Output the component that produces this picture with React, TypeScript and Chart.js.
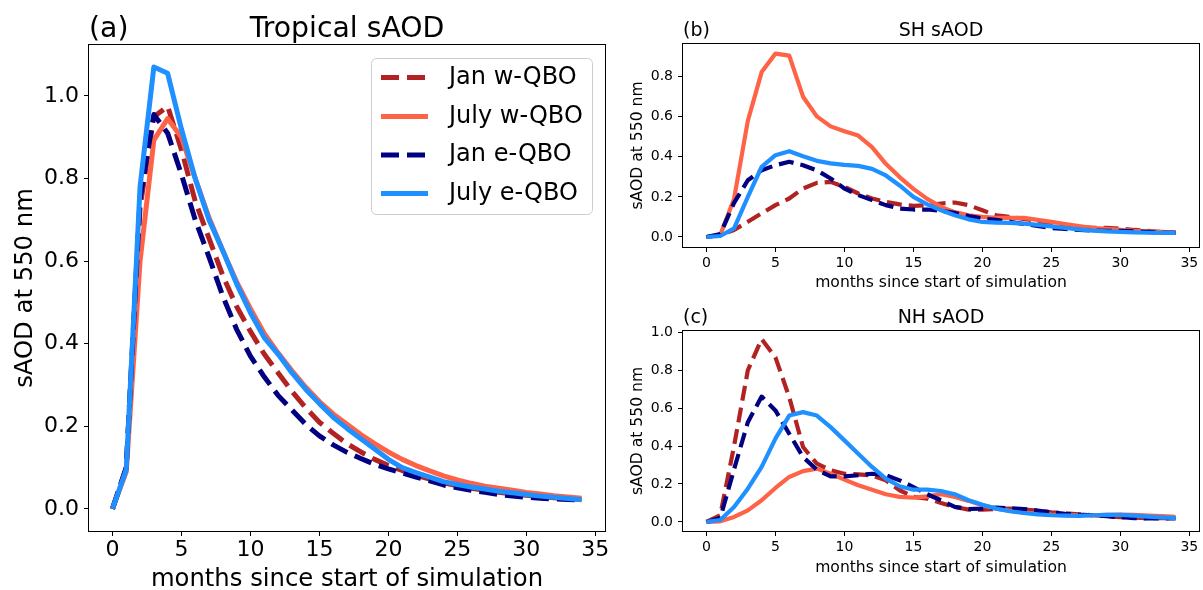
import React, { useEffect, useRef } from "react";
import { Chart, registerables } from "chart.js";

Chart.register(...registerables);

// ---------------- data ----------------
const MONTHS = [0, 1, 2, 3, 4, 5, 6, 7, 8, 9, 10, 11, 12, 13, 14, 15, 16, 17, 18, 19, 20, 21, 22, 23, 24, 25, 26, 27, 28, 29, 30, 31, 32, 33, 34];

const SERIES_LABELS = ["Jan w-QBO", "July w-QBO", "Jan e-QBO", "July e-QBO"];
const SERIES_COLORS = ["#b22222", "#ff6347", "#000080", "#1e90ff"];
const SERIES_DASHED = [true, false, true, false];

const X_TICKS = [0, 5, 10, 15, 20, 25, 30, 35];
const Y_TICKS_TROP = [0, 0.2, 0.4, 0.6, 0.8, 1.0];
const Y_TICKS_SH = [0, 0.2, 0.4, 0.6, 0.8];
const Y_TICKS_NH = [0, 0.2, 0.4, 0.6, 0.8, 1.0];

// Tropical sAOD
const TROP_JAN_W = [0, 0.10, 0.73, 0.95, 0.975, 0.87, 0.745, 0.655, 0.565, 0.49, 0.43, 0.375, 0.33, 0.285, 0.245, 0.21, 0.183, 0.158, 0.138, 0.12, 0.105, 0.093, 0.082, 0.072, 0.063, 0.056, 0.05, 0.045, 0.04, 0.036, 0.033, 0.03, 0.027, 0.025, 0.023];
const TROP_JUL_W = [0, 0.09, 0.60, 0.893, 0.945, 0.90, 0.80, 0.705, 0.625, 0.55, 0.485, 0.425, 0.378, 0.335, 0.295, 0.26, 0.23, 0.205, 0.18, 0.158, 0.138, 0.12, 0.105, 0.092, 0.08, 0.07, 0.062, 0.055, 0.05, 0.045, 0.04, 0.036, 0.032, 0.029, 0.026];
const TROP_JAN_E = [0, 0.10, 0.75, 0.955, 0.91, 0.81, 0.70, 0.61, 0.515, 0.435, 0.37, 0.32, 0.275, 0.24, 0.205, 0.177, 0.155, 0.137, 0.122, 0.108, 0.097, 0.087, 0.077, 0.068, 0.058, 0.051, 0.045, 0.04, 0.035, 0.031, 0.028, 0.026, 0.024, 0.023, 0.022];
const TROP_JUL_E = [0, 0.095, 0.78, 1.07, 1.055, 0.92, 0.80, 0.70, 0.625, 0.545, 0.475, 0.415, 0.375, 0.33, 0.29, 0.255, 0.222, 0.195, 0.17, 0.145, 0.12, 0.10, 0.088, 0.077, 0.066, 0.059, 0.053, 0.048, 0.043, 0.039, 0.035, 0.031, 0.028, 0.025, 0.022];

// SH sAOD
const SH_JAN_W = [0, 0.01, 0.035, 0.076, 0.118, 0.159, 0.192, 0.242, 0.27, 0.275, 0.25, 0.217, 0.192, 0.175, 0.163, 0.155, 0.159, 0.167, 0.172, 0.159, 0.133, 0.108, 0.1, 0.09, 0.08, 0.065, 0.055, 0.05, 0.045, 0.045, 0.042, 0.035, 0.03, 0.025, 0.022];
const SH_JUL_W = [0, 0.01, 0.19, 0.58, 0.823, 0.915, 0.905, 0.70, 0.602, 0.552, 0.528, 0.506, 0.448, 0.365, 0.299, 0.24, 0.19, 0.15, 0.124, 0.108, 0.10, 0.095, 0.095, 0.095, 0.085, 0.075, 0.065, 0.055, 0.045, 0.04, 0.035, 0.03, 0.028, 0.025, 0.022];
const SH_JAN_E = [0, 0.015, 0.17, 0.283, 0.333, 0.358, 0.375, 0.358, 0.333, 0.292, 0.242, 0.209, 0.184, 0.159, 0.142, 0.137, 0.137, 0.13, 0.12, 0.105, 0.092, 0.085, 0.075, 0.065, 0.055, 0.045, 0.04, 0.035, 0.032, 0.03, 0.03, 0.028, 0.025, 0.022, 0.02];
const SH_JUL_E = [0, 0.005, 0.043, 0.2, 0.35, 0.408, 0.428, 0.403, 0.38, 0.367, 0.36, 0.355, 0.34, 0.307, 0.257, 0.2, 0.163, 0.133, 0.108, 0.088, 0.075, 0.072, 0.07, 0.067, 0.06, 0.053, 0.045, 0.038, 0.032, 0.028, 0.025, 0.023, 0.021, 0.02, 0.02];

// NH sAOD
const NH_JAN_W = [0, 0.035, 0.4, 0.8, 0.965, 0.868, 0.658, 0.395, 0.307, 0.272, 0.254, 0.251, 0.245, 0.219, 0.167, 0.132, 0.123, 0.1, 0.079, 0.065, 0.065, 0.068, 0.07, 0.065, 0.06, 0.05, 0.045, 0.04, 0.035, 0.03, 0.025, 0.022, 0.02, 0.02, 0.02];
const NH_JUL_W = [0, 0.003, 0.026, 0.061, 0.114, 0.179, 0.237, 0.268, 0.281, 0.254, 0.223, 0.193, 0.17, 0.146, 0.132, 0.128, 0.135, 0.146, 0.132, 0.111, 0.088, 0.07, 0.058, 0.05, 0.043, 0.038, 0.036, 0.035, 0.035, 0.037, 0.038, 0.037, 0.033, 0.03, 0.027];
const NH_JAN_E = [0, 0.02, 0.277, 0.526, 0.661, 0.588, 0.465, 0.342, 0.275, 0.24, 0.24, 0.246, 0.254, 0.246, 0.219, 0.184, 0.146, 0.114, 0.079, 0.068, 0.07, 0.075, 0.072, 0.068, 0.06, 0.05, 0.043, 0.038, 0.035, 0.03, 0.025, 0.02, 0.018, 0.018, 0.018];
const NH_JUL_E = [0, 0.01, 0.079, 0.175, 0.29, 0.439, 0.561, 0.579, 0.561, 0.5, 0.43, 0.36, 0.29, 0.228, 0.188, 0.17, 0.17, 0.163, 0.146, 0.114, 0.091, 0.07, 0.056, 0.047, 0.04, 0.035, 0.033, 0.032, 0.035, 0.037, 0.037, 0.033, 0.028, 0.024, 0.02];

const X_LABEL = "months since start of simulation";
const Y_LABEL = "sAOD at 550 nm";

// ---------------- layout ----------------
const FONT = '"DejaVu Sans", "Liberation Sans", sans-serif';

type PanelSpec = {
  left: number; top: number; width: number; height: number;
  aL: number; aT: number; aR: number; aB: number;
  yMin: number; yMax: number; yTicks: number[];
  series: number[][];
  tag: string; title: string;
  tickSize: number; labelSize: number; titleSize: number;
  lw: number; dash: number[];
  xTickPad: number;
  titleBase: number; xLabelBase: number; yLabelBase: number;
  legend: boolean;
};

const PANELS: PanelSpec[] = [
  {
    left: 0, top: 0, width: 640, height: 590,
    aL: 89, aT: 45, aR: 605, aB: 531,
    yMin: -0.0535, yMax: 1.1235, yTicks: Y_TICKS_TROP,
    series: [TROP_JAN_W, TROP_JUL_W, TROP_JAN_E, TROP_JUL_E],
    tag: "(a)", title: "Tropical sAOD",
    tickSize: 22, labelSize: 24.3, titleSize: 28.3,
    lw: 5, dash: [18, 8], xTickPad: 3,
    titleBase: 37, xLabelBase: 586, yLabelBase: 32,
    legend: true,
  },
  {
    left: 612, top: 0, width: 591, height: 295,
    aL: 683, aT: 44, aR: 1199, aB: 247,
    yMin: -0.05, yMax: 0.963, yTicks: Y_TICKS_SH,
    series: [SH_JAN_W, SH_JUL_W, SH_JAN_E, SH_JUL_E],
    tag: "(b)", title: "SH sAOD",
    tickSize: 14, labelSize: 15.6, titleSize: 19,
    lw: 4.2, dash: [15, 7], xTickPad: 4,
    titleBase: 36, xLabelBase: 287, yLabelBase: 642,
    legend: false,
  },
  {
    left: 612, top: 295, width: 591, height: 295,
    aL: 683, aT: 331, aR: 1199, aB: 531,
    yMin: -0.048, yMax: 1.007, yTicks: Y_TICKS_NH,
    series: [NH_JAN_W, NH_JUL_W, NH_JAN_E, NH_JUL_E],
    tag: "(c)", title: "NH sAOD",
    tickSize: 14, labelSize: 15.6, titleSize: 19,
    lw: 4.2, dash: [15, 7], xTickPad: 4,
    titleBase: 323, xLabelBase: 572, yLabelBase: 642,
    legend: false,
  },
];

function roundRectPath(ctx: CanvasRenderingContext2D, x: number, y: number, w: number, h: number, r: number) {
  ctx.beginPath();
  ctx.moveTo(x + r, y);
  ctx.lineTo(x + w - r, y);
  ctx.arcTo(x + w, y, x + w, y + r, r);
  ctx.lineTo(x + w, y + h - r);
  ctx.arcTo(x + w, y + h, x + w - r, y + h, r);
  ctx.lineTo(x + r, y + h);
  ctx.arcTo(x, y + h, x, y + h - r, r);
  ctx.lineTo(x, y + r);
  ctx.arcTo(x, y, x + r, y, r);
  ctx.closePath();
}

function decorPlugin(p: PanelSpec) {
  return {
    id: "decor",
    afterDraw(chart: any) {
      const ctx: CanvasRenderingContext2D = chart.ctx;
      const ca = chart.chartArea;
      const ox = p.left, oy = p.top;
      ctx.save();
      // frame
      ctx.strokeStyle = "#000";
      ctx.lineWidth = 1;
      ctx.setLineDash([]);
      ctx.strokeRect(Math.round(ca.left) - 0.5, Math.round(ca.top) - 0.5, Math.round(ca.right - ca.left) + 1, Math.round(ca.bottom - ca.top) + 1);

      // titles
      ctx.fillStyle = "#000";
      ctx.font = `${p.titleSize}px ${FONT}`;
      ctx.textBaseline = "alphabetic";
      ctx.textAlign = "left";
      ctx.fillText(p.tag, ca.left, p.titleBase - oy);
      ctx.textAlign = "center";
      ctx.fillText(p.title, (ca.left + ca.right) / 2, p.titleBase - oy);

      // axis labels
      ctx.font = `${p.labelSize}px ${FONT}`;
      ctx.textAlign = "center";
      ctx.fillText(X_LABEL, (ca.left + ca.right) / 2, p.xLabelBase - oy);
      ctx.save();
      ctx.translate(p.yLabelBase - ox, (ca.top + ca.bottom) / 2);
      ctx.rotate(-Math.PI / 2);
      ctx.fillText(Y_LABEL, 0, 0);
      ctx.restore();

      // legend
      if (p.legend) {
        const bx = 371 - ox, by = 58 - oy, bw = 592 - 371, bh = 214 - 58;
        roundRectPath(ctx, bx + 0.5, by + 0.5, bw, bh, 5);
        ctx.fillStyle = "rgba(255,255,255,0.8)";
        ctx.fill();
        ctx.strokeStyle = "#cccccc";
        ctx.lineWidth = 1;
        ctx.stroke();
        const rowY = [77.5, 116.5, 155, 193.5];
        chart.data.datasets.forEach((ds: any, i: number) => {
          const y = rowY[i] - oy;
          ctx.beginPath();
          ctx.setLineDash(SERIES_DASHED[i] ? p.dash : []);
          ctx.lineWidth = p.lw;
          ctx.lineCap = "butt";
          ctx.strokeStyle = ds.borderColor;
          ctx.moveTo(381 - ox, y);
          ctx.lineTo(428 - ox, y);
          ctx.stroke();
          ctx.setLineDash([]);
          ctx.fillStyle = "#000";
          ctx.font = `${24}px ${FONT}`;
          ctx.textAlign = "left";
          ctx.textBaseline = "middle";
          ctx.fillText(ds.label, 449 - ox, y);
        });
      }
      ctx.restore();
    },
  };
}

function makeConfig(p: PanelSpec): any {
  const tickGrid = {
    display: true,
    drawOnChartArea: false,
    drawTicks: true,
    tickLength: 5,
    color: "#000",
    lineWidth: 1,
  };
  return {
    type: "line",
    data: {
      datasets: p.series.map((vals, i) => ({
        label: SERIES_LABELS[i],
        data: MONTHS.map((m, k) => ({ x: m, y: vals[k] })),
        borderColor: SERIES_COLORS[i],
        backgroundColor: SERIES_COLORS[i],
        borderWidth: p.lw,
        borderDash: SERIES_DASHED[i] ? p.dash : [],
        borderCapStyle: "butt",
        borderJoinStyle: "round",
        pointRadius: 0,
        pointHoverRadius: 0,
        tension: 0,
        fill: false,
        order: 4 - i,
      })),
    },
    options: {
      responsive: false,
      animation: false,
      devicePixelRatio: 1,
      events: [],
      layout: {
        padding: {
          left: 0,
          top: p.aT - p.top,
          right: p.left + p.width - p.aR,
          bottom: 0,
        },
      },
      plugins: {
        legend: { display: false },
        title: { display: false },
        tooltip: { enabled: false },
      },
      scales: {
        x: {
          type: "linear",
          min: -1.7,
          max: 35.7,
          afterBuildTicks: (s: any) => {
            s.ticks = X_TICKS.map((v) => ({ value: v }));
          },
          afterFit: (s: any) => {
            s.height = p.top + p.height - p.aB;
          },
          grid: tickGrid,
          border: { display: false },
          ticks: {
            color: "#000",
            font: { family: FONT, size: p.tickSize, lineHeight: 1 },
            padding: p.xTickPad,
            maxRotation: 0,
            autoSkip: false,
            callback: (v: any) => String(v),
          },
        },
        y: {
          type: "linear",
          min: p.yMin,
          max: p.yMax,
          afterBuildTicks: (s: any) => {
            s.ticks = p.yTicks.map((v) => ({ value: v }));
          },
          afterFit: (s: any) => {
            s.width = p.aL - p.left;
          },
          grid: tickGrid,
          border: { display: false },
          ticks: {
            color: "#000",
            font: { family: FONT, size: p.tickSize, lineHeight: 1 },
            padding: 5,
            autoSkip: false,
            callback: (v: any) => Number(v).toFixed(1),
          },
        },
      },
    },
    plugins: [decorPlugin(p)],
  };
}

function Panel({ spec }: { spec: PanelSpec }) {
  const ref = useRef<HTMLCanvasElement>(null);
  useEffect(() => {
    if (!ref.current) return;
    const chart = new Chart(ref.current, makeConfig(spec));
    return () => chart.destroy();
  }, [spec]);
  return (
    <canvas
      ref={ref}
      width={spec.width}
      height={spec.height}
      style={{ position: "absolute", left: spec.left, top: spec.top, width: spec.width, height: spec.height }}
    />
  );
}

export default function App() {
  return (
    <div style={{ position: "absolute", left: 0, top: 0, width: 1203, height: 590, background: "#fff", overflow: "hidden" }}>
      {PANELS.map((p, i) => (
        <Panel key={i} spec={p} />
      ))}
    </div>
  );
}
